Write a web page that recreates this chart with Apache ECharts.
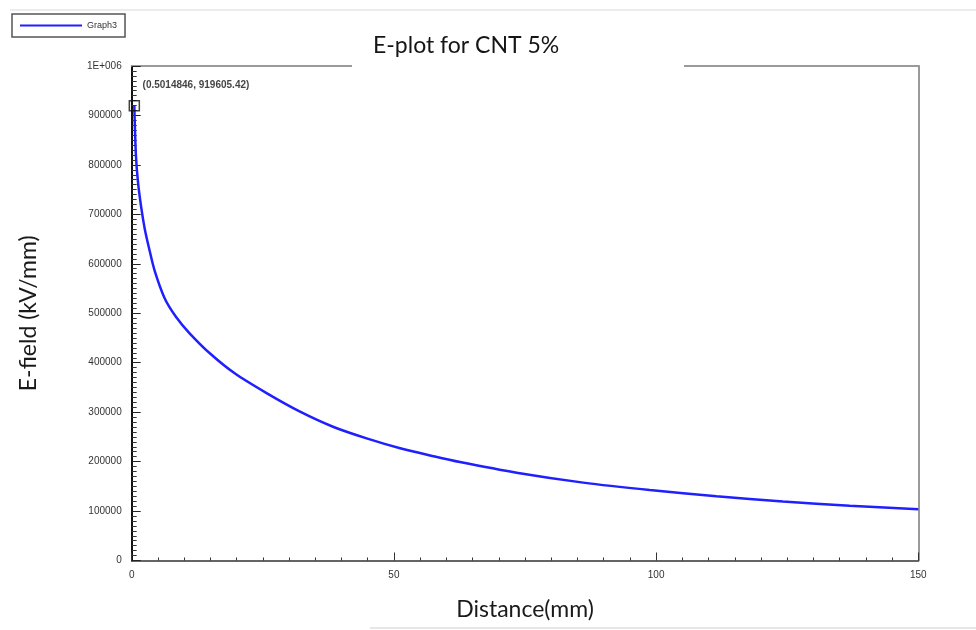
<!DOCTYPE html>
<html>
<head>
<meta charset="utf-8">
<script src="https://cdn.jsdelivr.net/npm/echarts@6/dist/echarts.min.js"></script>
<style>html,body{margin:0;padding:0;background:#fff;}#c{width:976px;height:630px;}</style>
</head>
<body>
<div id="c"></div>
<script>
const distance = [0.5, 0.8, 1.2, 1.8, 2.5, 3.3, 4.4, 6.3, 8.5, 11.0, 15.0, 19.7, 25.8, 32.1, 38.5, 44.8, 51.2, 57.5, 62.6, 73.4, 86.1, 98.8, 111.5, 124.2, 136.9, 150];
const efield = [919605, 820000, 765000, 715000, 670000, 632000, 585000, 530000, 492000, 460000, 418000, 378000, 338000, 301000, 270000, 247000, 227000, 211000, 199000, 177500, 157500, 142500, 130000, 119500, 110800, 103500];
const markerPoint = [0.5014846, 919605.42];
const seriesName = 'Graph3';
const titleText = 'E-plot for CNT 5%';
const xName = 'Distance(mm)';
const yName = 'E-field (kV/mm)';

const chart = echarts.init(document.getElementById('c'), null, {renderer: 'canvas'});
const lineData = distance.map((d, i) => [d, efield[i]]);

chart.setOption({
  backgroundColor: '#fff',
  animation: false,
  title: {
    text: titleText,
    left: 373, top: 34,
    padding: 0,
    textStyle: {fontFamily: 'Lato', fontSize: 23, fontWeight: 'normal', color: '#151515'}
  },
  legend: {
    left: 12, top: 14,
    padding: [7, 8, 7, 8],
    borderColor: '#555', borderWidth: 1.5,
    itemWidth: 62, itemHeight: 2, itemGap: 4,
    data: [{name: seriesName, icon: 'rect'}],
    textStyle: {fontFamily: 'Liberation Sans', fontSize: 9, color: '#333'}
  },
  grid: {left: 131.7, right: 57.7, top: 66, bottom: 69.5, containLabel: false},
  xAxis: [{
    type: 'value', min: 0, max: 150, interval: 50,
    name: xName, nameLocation: 'middle', nameGap: 38,
    nameTextStyle: {fontFamily: 'Lato', fontSize: 23, color: '#1a1a1a'},
    axisLine: {show: true, onZero: false, lineStyle: {color: '#333', width: 1.5}},
    axisTick: {show: true, inside: true, length: 8, lineStyle: {color: '#333', width: 1}},
    minorTick: {show: true, splitNumber: 10, length: 3, lineStyle: {color: '#333', width: 1}},
    axisLabel: {margin: 10, fontFamily: 'Liberation Sans', fontSize: 10, color: '#333'},
    splitLine: {show: false}
  }, {
    type: 'value', position: 'top', min: 0, max: 150,
    axisLine: {show: true, onZero: false, lineStyle: {color: '#9a9a9a', width: 2}},
    axisTick: {show: false}, axisLabel: {show: false}, splitLine: {show: false}
  }],
  yAxis: [{
    type: 'value', min: 0, max: 1000000, interval: 100000,
    name: yName, nameLocation: 'middle', nameGap: 92,
    nameTextStyle: {fontFamily: 'Lato', fontSize: 23, color: '#1a1a1a'},
    axisLine: {show: true, onZero: false, lineStyle: {color: '#111', width: 2}},
    axisTick: {show: true, inside: true, length: 9, lineStyle: {color: '#222', width: 1}},
    minorTick: {show: true, splitNumber: 10, length: 5, lineStyle: {color: '#333', width: 1}},
    axisLabel: {
      margin: 10, fontFamily: 'Liberation Sans', fontSize: 10, color: '#333',
      formatter: v => v === 1000000 ? '1E+006' : String(v)
    },
    splitLine: {show: false}
  }, {
    type: 'value', position: 'right', min: 0, max: 1000000,
    axisLine: {show: true, onZero: false, lineStyle: {color: '#9a9a9a', width: 2}},
    axisTick: {show: false}, axisLabel: {show: false}, splitLine: {show: false}
  }],
  series: [{
    name: seriesName,
    type: 'line',
    data: lineData,
    smooth: 0.3,
    showSymbol: false,
    symbol: 'none',
    lineStyle: {color: '#1f1fff', width: 2.5},
    itemStyle: {color: '#1f1fff'},
    z: 3
  }, {
    name: 'marker',
    type: 'scatter',
    data: [markerPoint],
    symbol: 'rect',
    symbolSize: 10,
    itemStyle: {color: 'rgba(255,255,255,0)', borderColor: '#111', borderWidth: 1.5},
    label: {
      show: true,
      position: [14, -20],
      formatter: () => '(' + markerPoint[0] + ', ' + markerPoint[1] + ')',
      fontFamily: 'Liberation Sans', fontSize: 10, fontWeight: 'bold', color: '#111'
    },
    z: 5
  }],
  graphic: [
    {type: 'rect', shape: {x: 352, y: 58, width: 332, height: 16}, style: {fill: '#fff'}, z: 100},
    {type: 'line', shape: {x1: 10, y1: 10, x2: 976, y2: 10}, style: {stroke: '#e6e6e6', lineWidth: 1.5}, z: 1},
    {type: 'line', shape: {x1: 370, y1: 628, x2: 976, y2: 628}, style: {stroke: '#e6e6e6', lineWidth: 2}, z: 1}
  ]
});
</script>
</body>
</html>
